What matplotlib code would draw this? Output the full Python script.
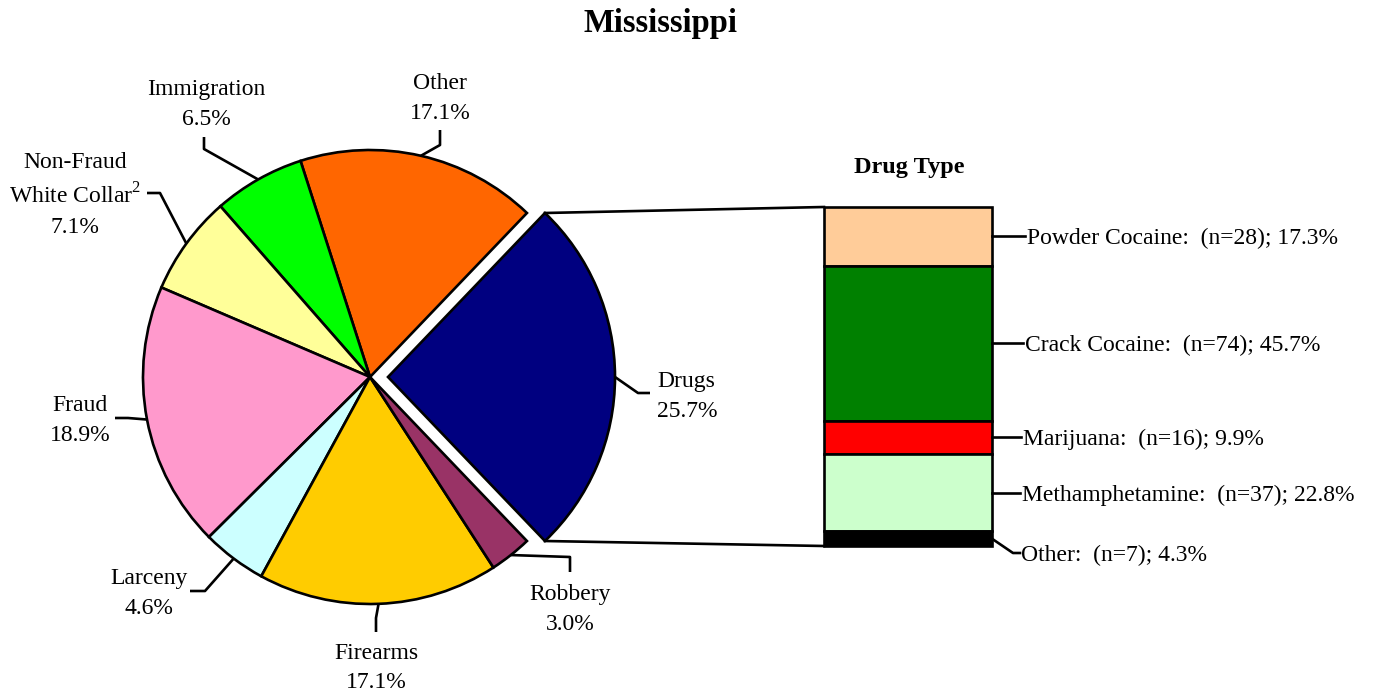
import numpy as np
import matplotlib
matplotlib.use('Agg')
import matplotlib.pyplot as plt

plt.rcParams['font.family'] = 'Liberation Serif'
plt.rcParams['mathtext.fontset'] = 'custom'
plt.rcParams['mathtext.rm'] = 'Liberation Serif'

# offense shares (%), drawn counter-clockwise starting with Drugs
offenses = ['Drugs', 'Other', 'Immigration', 'Non-Fraud White Collar',
            'Fraud', 'Larceny', 'Firearms', 'Robbery']
offense_pct = [25.7, 17.1, 6.5, 7.1, 18.9, 4.6, 17.1, 3.0]
offense_colors = ['#000080', '#FF6600', '#00FF00', '#FFFF99',
                  '#FF99CC', '#CCFFFF', '#FFCC00', '#993366']

# drug type breakdown
drug_types = ['Powder Cocaine', 'Crack Cocaine', 'Marijuana', 'Methamphetamine', 'Other']
drug_n = [28, 74, 16, 37, 7]
drug_pct = [17.3, 45.7, 9.9, 22.8, 4.3]
drug_colors = ['#FFCC99', '#008000', '#FF0000', '#CCFFCC', '#000000']

fig = plt.figure(figsize=(13.77, 6.93), dpi=100)
ax = fig.add_axes([0, 0, 1, 1])

lw = 1.9
cx, cy, r = 370, 377, 227
off = 18  # explode distance of the Drugs wedge
start = offense_pct[0] * 3.6 / 2
ax.pie(offense_pct, colors=offense_colors, startangle=start, counterclock=False,
       center=(cx, cy), radius=r, explode=[off] + [0] * (len(offense_pct) - 1),
       wedgeprops=dict(edgecolor='black', linewidth=lw))
ax.set_xlim(0, 1377)
ax.set_ylim(693, 0)
ax.set_aspect('equal')
ax.axis('off')

fs = 17
# leader elbows, text x, alignment, baselines
layout = {
    'Drugs': ([(638, 393), (650, 393)], 657, 'left', [387, 417]),
    'Other': ([(440, 145), (440, 130)], 440, 'center', [89, 119]),
    'Immigration': ([(204, 149), (204, 137)], 206, 'center', [95, 125]),
    'Non-Fraud White Collar': ([(160, 193), (147, 193)], 75, 'center', [168, 203, 233]),
    'Fraud': ([(128, 418), (115, 418)], 80, 'center', [411, 441]),
    'Larceny': ([(205, 591), (190, 591)], 149, 'center', [584, 614]),
    'Firearms': ([(376, 618), (376, 632)], 376, 'center', [659, 688]),
    'Robbery': ([(570, 557), (570, 572)], 570, 'center', [600, 630]),
}

cum = 0
for i, (name, pct) in enumerate(zip(offenses, offense_pct)):
    mid = np.radians(-start + (cum + pct / 2) * 3.6)
    cum += pct
    ox = cx + (off if i == 0 else 0)
    p0 = (ox + r * np.cos(mid), cy - r * np.sin(mid))
    elbows, tx, ha, bls = layout[name]
    pts = [p0] + elbows
    ax.plot([p[0] for p in pts], [p[1] for p in pts], color='black', lw=lw,
            solid_capstyle='butt')
    if name == 'Non-Fraud White Collar':
        lines = ['Non-Fraud', 'White Collar$^{2}$', f'{pct}%']
    else:
        lines = [name, f'{pct}%']
    for s, b in zip(lines, bls):
        ax.text(tx, b, s, ha=ha, va='baseline', fontsize=fs)

# stacked bar for drug types
bx0, bx1, btop, bbot = 824, 992, 207, 546
scale = (bbot - btop) / sum(drug_pct)
heights = [p * scale for p in drug_pct]
bottoms = btop + np.concatenate([[0], np.cumsum(heights)[:-1]])
ax.bar([(bx0 + bx1) / 2] * len(drug_pct), heights, bottom=bottoms, width=bx1 - bx0,
       color=drug_colors, edgecolor='black', linewidth=lw)

# connectors from exploded wedge to bar
half = np.radians(start)
tipx = cx + off + r * np.cos(half)
ax.plot([tipx, bx0], [cy - r * np.sin(half), btop], color='black', lw=lw)
ax.plot([tipx, bx0], [cy + r * np.sin(half), bbot], color='black', lw=lw)

label_x = [1027, 1025, 1023, 1022, 1021]
for i, (name, n, pct) in enumerate(zip(drug_types, drug_n, drug_pct)):
    yc = bottoms[i] + heights[i] / 2
    if i == len(drug_types) - 1:
        ax.plot([bx1, 1013, 1020], [yc, 553, 553], color='black', lw=lw)
        yl = 553
    else:
        ax.plot([bx1, label_x[i] - 2], [yc, yc], color='black', lw=lw)
        yl = yc
    ax.text(label_x[i], yl + 8, f'{name}:  (n={n}); {pct}%', ha='left',
            va='baseline', fontsize=fs)

ax.text(909, 173, 'Drug Type', ha='center', va='baseline', fontsize=17.5,
        fontweight='bold')
ax.text(660, 32, 'Mississippi', ha='center', va='baseline', fontsize=23.5,
        fontweight='bold')

fig.savefig('out.png', dpi=100)
